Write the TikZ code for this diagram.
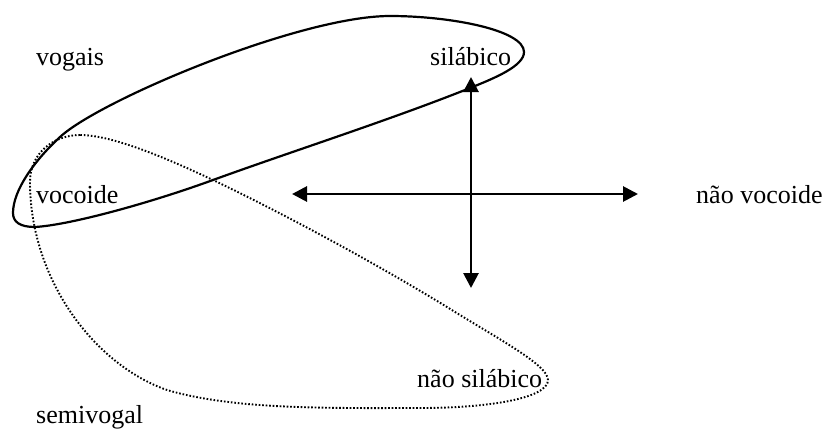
\documentclass[tikz,border=0pt]{standalone}
\usepackage{fontspec}
\setmainfont{Liberation Serif}
\usetikzlibrary{arrows.meta}

\tikzset{
  label/.style={anchor=base west, inner sep=0pt, font=\fontsize{26}{30}\selectfont},
  solidloop/.style={line width=2.2pt},
  dottedloop/.style={line width=1.9pt, dash pattern=on 1.6pt off 1.9pt},
  axis/.style={line width=2.8pt, {Triangle[length=15pt,width=15pt]}-{Triangle[length=15pt,width=15pt]}}
}

\begin{document}
\begin{tikzpicture}[x=1pt, y=-1pt]
  \useasboundingbox (0,0) rectangle (829,436);

  % labels
  \node[label] (vogais) at (36,65) {vogais};
  \node[label] (silabico) at (430,65) {silábico};
  \node[label] (vocoide) at (36,203) {vocoide};
  \node[label] (naovocoide) at (696,203) {não vocoide};
  \node[label] (naosilabico) at (417,387) {não silábico};
  \node[label] (semivogal) at (36,423) {semivogal};

  % solid loop: vowels (syllabic vocoids)
  \draw[solidloop] (13,213)
    .. controls (13,190) and (35,160) .. (60,137)
    .. controls (100,100) and (300,16) .. (390,16)
    .. controls (450,16) and (524,30) .. (524,52)
    .. controls (524,66) and (495,78) .. (470,88)
    .. controls (390,120) and (290,152) .. (213,180)
    .. controls (150,203) and (70,225) .. (35,227)
    .. controls (20,227) and (13,222) .. cycle;

  % dotted loop: semivowels (non-syllabic vocoids)
  \draw[dottedloop] (80,135)
    .. controls (55,135) and (30,152) .. (30,182)
    .. controls (30,280) and (95,365) .. (167,390)
    .. controls (235,410) and (330,408) .. (420,408)
    .. controls (490,408) and (548,398) .. (548,380)
    .. controls (548,365) and (500,340) .. (447,307)
    .. controls (370,260) and (280,212) .. (213,180)
    .. controls (160,155) and (110,135) .. cycle;

  % axes
  \coordinate (hl) at (292,194);
  \coordinate (hr) at (638,194);
  \coordinate (vt) at (471,77);
  \coordinate (vb) at (471,288);
  \draw[axis] (hl) -- (hr);
  \draw[axis] (vt) -- (vb);
\end{tikzpicture}
\end{document}
